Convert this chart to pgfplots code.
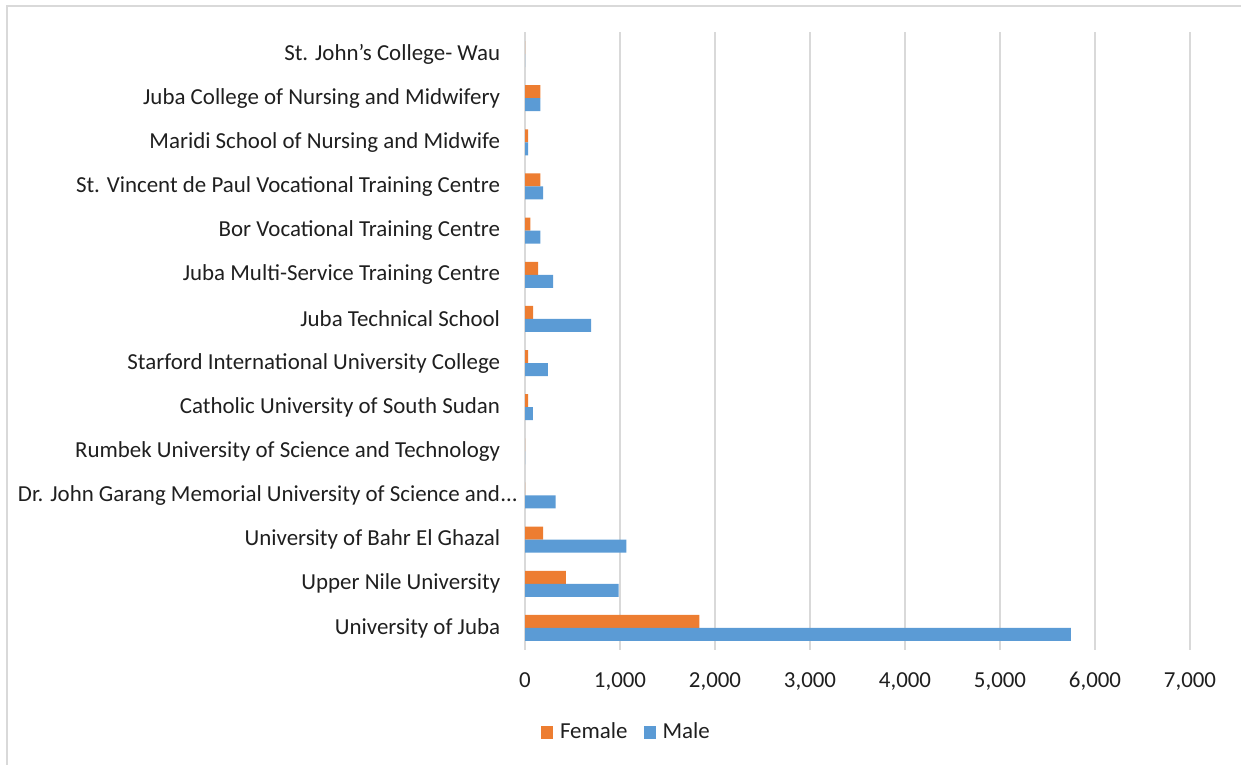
\documentclass[border=0pt]{standalone}
\usepackage{pgfplots}
\pgfplotsset{compat=1.18}
\usepackage{fontspec}
\setmainfont{Carlito}
\definecolor{fem}{HTML}{ED7D31}
\definecolor{mal}{HTML}{5B9BD5}
\definecolor{gridc}{HTML}{D9D9D9}
\definecolor{txt}{HTML}{1F1F1F}
\begin{document}
\begin{tikzpicture}
\useasboundingbox (0,0) rectangle (620.5bp,382.5bp);
\draw[gridc, line width=1bp] (3.5bp,0) -- (3.5bp,379.5bp) -- (620.5bp,379.5bp);
\begin{axis}[
  at={(262.5bp,57.5bp)}, anchor=south west,
  scale only axis, width=332.5bp, height=309bp,
  xbar, bar width=6.5bp,
  xmin=0, xmax=7000, ymin=-0.5, ymax=13.5,
  xtick={0,1000,...,7000},
  ytick={0,...,13},
  yticklabels={University of Juba, Upper Nile University, University of Bahr El Ghazal, Dr. John Garang Memorial University of Science and\rlap{\kern0.5bp…}, Rumbek University of Science and Technology, Catholic University of South Sudan, Starford International University College, Juba Technical School, Juba Multi-Service Training Centre, Bor Vocational Training Centre, St. Vincent de Paul Vocational Training Centre, Maridi School of Nursing and Midwife, Juba College of Nursing and Midwifery, St. John's College- Wau},
  axis line style={draw=none},
  major tick style={draw=none},
  xmajorgrids, grid style={gridc, line width=0.8bp},
  /pgf/number format/.cd, 1000 sep={,}, assume math mode=true,
  /pgfplots/.cd,
  ticklabel style={font=\fontsize{11.5}{13}\selectfont, text=txt},
  y tick label style={anchor=east, inner sep=0pt, xshift=-8bp},
  x tick label style={anchor=north, inner sep=0pt, yshift=-11bp},
  legend style={at={(0.154,-0.1327)}, anchor=center, draw=none, fill=none,
    legend columns=2, font=\fontsize{11.5}{13}\selectfont, text=txt,
    /tikz/every even column/.append style={column sep=6bp}},
  legend image code/.code={\fill[#1] (-1bp,-3.25bp) rectangle (5bp,3.25bp); \path (6.5bp,0);},
]
\addplot[fill=fem, draw=none, bar shift=3.25bp] coordinates {
  (1835,0) (430,1) (190,2) (0,3) (0,4) (32,5) (32,6) (85,7) (137,8) (56,9) (161,10) (32,11) (161,12) (0,13)};
\addplot[fill=mal, draw=none, bar shift=-3.25bp] coordinates {
  (5745,0) (986,1) (1066,2) (323,3) (0,4) (84,5) (242,6) (695,7) (295,8) (161,9) (190,10) (32,11) (161,12) (0,13)};
\legend{Female, Male}
\end{axis}
\end{tikzpicture}
\end{document}
